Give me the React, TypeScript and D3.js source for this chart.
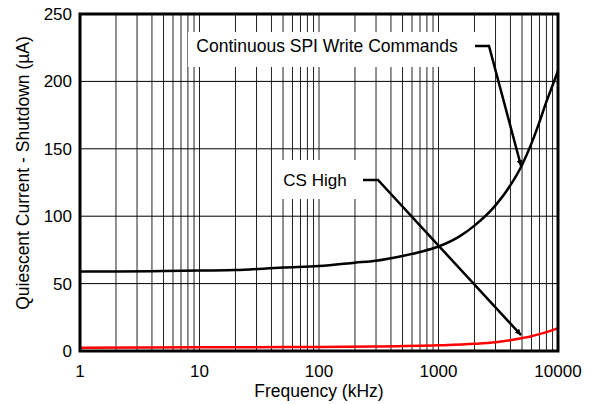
import React from "react";
import * as d3 from "d3";

const freqBlack = [1, 2, 5, 10, 20, 50, 100, 200, 300, 500, 700, 1000, 1500, 2000, 3000, 4000, 5000, 6000, 7000, 8000, 9000, 10000];
const valBlack = [59, 59, 59.3, 59.7, 60, 62, 63, 65.5, 67, 70.5, 73.5, 77.5, 85, 93, 108, 123, 138, 154, 170, 185, 197, 208];
const freqRed = [1, 10, 100, 300, 1000, 2000, 3000, 4000, 5000, 6000, 7000, 8000, 9000, 10000];
const valRed = [2.5, 2.7, 3, 3.3, 4.2, 5.3, 6.5, 8, 9.6, 11, 12.5, 14, 15.5, 17];
const xTicks = [1, 10, 100, 1000, 10000];
const yTicks = [0, 50, 100, 150, 200, 250];

const W = 591, H = 404;
const L = 80, R = 558, T = 14, B = 351;

export default function App() {
  const x = d3.scaleLog().domain([1, 10000]).range([L, R]);
  const y = d3.scaleLinear().domain([0, 250]).range([B, T]);
  const minor: number[] = [];
  for (let d = 1; d < 10000; d *= 10) for (let k = 2; k <= 9; k++) minor.push(d * k);
  for (let d = 10; d < 10000; d *= 10) minor.push(d);
  const line = d3.line<[number, number]>().x(d => x(d[0])).y(d => y(d[1])).curve(d3.curveMonotoneX);
  const black = line(freqBlack.map((f, i) => [f, valBlack[i]] as [number, number]))!;
  const red = line(freqRed.map((f, i) => [f, valRed[i]] as [number, number]))!;
  const font = "'Liberation Sans', Arial, sans-serif";

  const a1 = { x0: 475, y0: 46, x1: 489, tx: x(5000) - 1, ty: y(138) + 1 };
  const a2 = { x0: 363, y0: 180, x1: 378, tx: x(5000) - 1, ty: y(9.6) - 3 };

  return (
    <svg width={W} height={H} style={{ position: "absolute", left: 0, top: 0 }} fontFamily={font}>
      <defs>
        <marker id="ah" viewBox="0 0 10 10" refX="10" refY="5" markerWidth="6" markerHeight="6" orient="auto" markerUnits="userSpaceOnUse">
          <path d="M0,0 L10,5 L0,10 z" fill="#000" />
        </marker>
      </defs>
      <rect width={W} height={H} fill="#fff" />
      {minor.map((m, i) => (
        <line key={"v" + i} x1={x(m)} x2={x(m)} y1={T} y2={B} stroke="#222" strokeWidth={1} />
      ))}
      {yTicks.slice(1, -1).map(t => (
        <line key={"h" + t} x1={L} x2={R} y1={y(t)} y2={y(t)} stroke="#000" strokeWidth={1} />
      ))}
      <rect x={188} y={32} width={287} height={35} fill="#fff" />
      <rect x={280} y={160} width={76} height={39} fill="#fff" />
      <path d={black} fill="none" stroke="#000" strokeWidth={2.5} />
      <path d={red} fill="none" stroke="#ff0000" strokeWidth={2.5} />
      <rect x={L} y={T} width={R - L} height={B - T} fill="none" stroke="#000" strokeWidth={3} />
      <text x={327} y={52} fontSize={17.5} textAnchor="middle">Continuous SPI Write Commands</text>
      <text x={315} y={186} fontSize={17} textAnchor="middle">CS High</text>
      <polyline points={`${a1.x0},${a1.y0} ${a1.x1},${a1.y0} ${a1.tx},${a1.ty}`} fill="none" stroke="#000" strokeWidth={2.5} markerEnd="url(#ah)" />
      <polyline points={`${a2.x0},${a2.y0} ${a2.x1},${a2.y0} ${a2.tx},${a2.ty}`} fill="none" stroke="#000" strokeWidth={2.5} markerEnd="url(#ah)" />
      {yTicks.map(t => (
        <text key={"yt" + t} x={72} y={y(t) + 6} fontSize={17} textAnchor="end">{t}</text>
      ))}
      {xTicks.map(t => (
        <text key={"xt" + t} x={x(t)} y={377} fontSize={17} textAnchor="middle">{t}</text>
      ))}
      <text x={(L + R) / 2} y={397} fontSize={17.5} textAnchor="middle">Frequency (kHz)</text>
      <text transform={`translate(29,173) rotate(-90)`} fontSize={17.5} textAnchor="middle">Quiescent Current - Shutdown (µA)</text>
    </svg>
  );
}
